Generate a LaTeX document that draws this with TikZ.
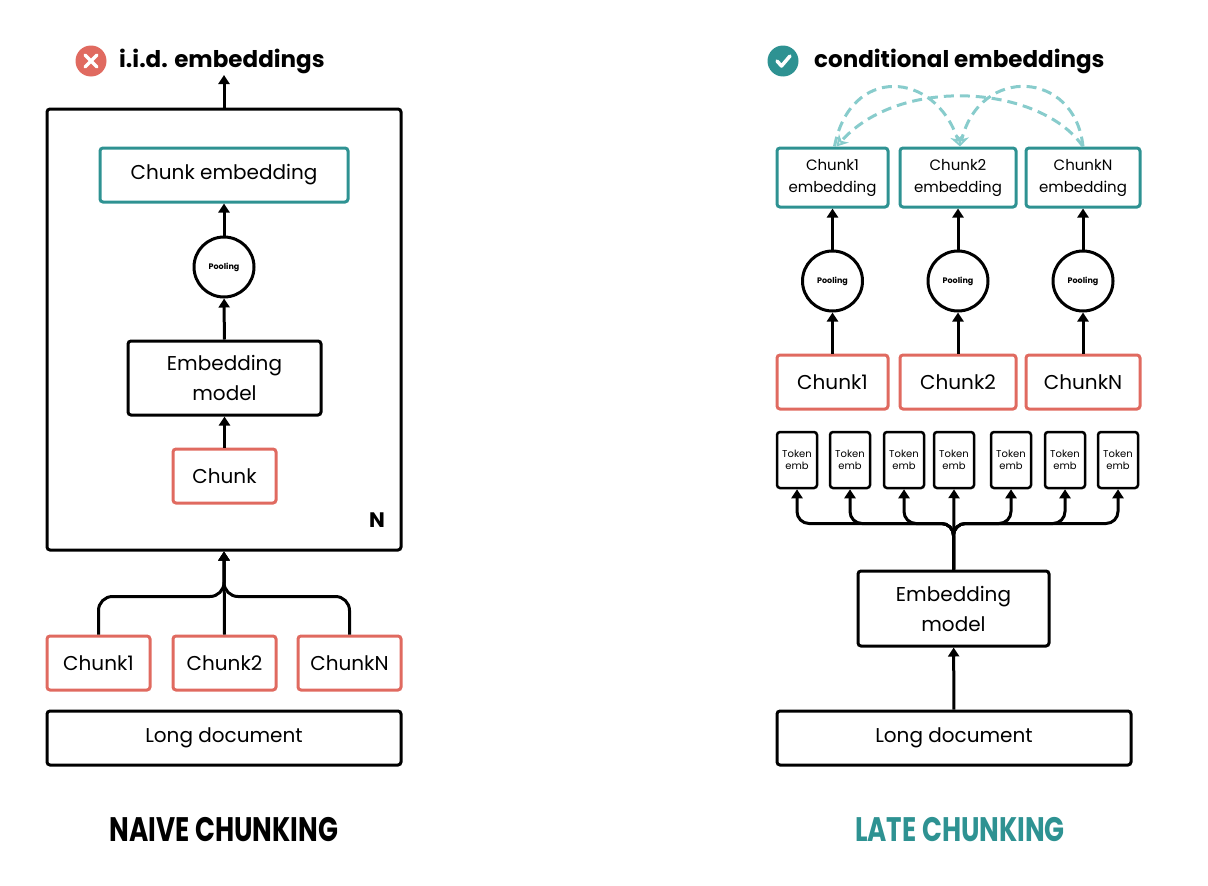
\documentclass[tikz,border=0pt]{standalone}
\usepackage{fontspec}
\setmainfont{Poppins}
\usetikzlibrary{arrows.meta,calc}
\definecolor{cred}{HTML}{E06A60}
\definecolor{cteal}{HTML}{2E9292}
\definecolor{clight}{HTML}{88CCCC}
\begin{document}
\begin{tikzpicture}[x=1pt,y=-1pt,
 box/.style={draw,line width=3pt,rounded corners=3pt,inner sep=0pt,align=center},
 bk/.style={box,draw=black},
 rd/.style={box,draw=cred},
 tl/.style={box,draw=cteal},
 pool/.style={circle,draw,line width=3pt,minimum size=60pt,inner sep=0pt,font=\fontsize{8}{9}\selectfont\bfseries},
 tok/.style={bk,line width=2.5pt,minimum width=40pt,minimum height=56pt,font=\fontsize{10}{12}\selectfont},
 arr/.style={line width=3pt,-{Triangle[length=9pt,width=11pt]}},
 ln/.style={line width=3pt},
 dsh/.style={clight,line width=3pt,dash pattern=on 10pt off 6pt,-{Stealth[length=11pt,width=13pt,open]}}]
\useasboundingbox (0,0) rectangle (1208,886);
% ---------- left
\node[bk,minimum width=354pt,minimum height=441pt] (outer) at (224,329.5) {};
\node[tl,minimum width=248pt,minimum height=54pt,font=\fontsize{20}{24}\selectfont] (ce) at (224,175) {Chunk embedding};
\node[pool] (pl) at (224,267) {Pooling};
\node[bk,minimum width=193pt,minimum height=74pt,font=\fontsize{20}{30}\selectfont] (em) at (224.5,378) {Embedding\\model};
\node[rd,minimum width=103pt,minimum height=54pt,font=\fontsize{20}{24}\selectfont] (ck) at (224.5,476) {Chunk};
\node[font=\fontsize{21}{24}\selectfont\bfseries] (N) at (377,520) {N};
\draw[arr] (ck) -- (em);
\draw[arr] (em) -- (pl);
\draw[arr] (pl) -- (ce);
\coordinate (out) at (224,75);
\draw[arr] (outer.north) -- (out);
\node[rd,minimum width=103pt,minimum height=54pt,font=\fontsize{20}{24}\selectfont] (c1) at (98.5,663) {Chunk1};
\node[rd,minimum width=103pt,minimum height=54pt,font=\fontsize{20}{24}\selectfont] (c2) at (224.5,663) {Chunk2};
\node[rd,minimum width=103pt,minimum height=54pt,font=\fontsize{20}{24}\selectfont] (cN) at (349.5,663) {ChunkN};
\node[bk,minimum width=354pt,minimum height=54pt,font=\fontsize{20}{24}\selectfont] (ld) at (224,738) {Long document};
\draw[arr,rounded corners=14pt] (c1.north) -- ++(0,-38) -| (outer.south);
\draw[arr,rounded corners=14pt] (cN.north) -- ++(0,-38) -| (outer.south);
\draw[arr] (c2.north) -- (outer.south);
\node[circle,fill=cred,minimum size=31pt,inner sep=0pt] (ix) at (91,61) {};
\draw[white,line width=3.5pt,line cap=round] ($(ix)+(-6,-6)$) -- ($(ix)+(6,6)$) ($(ix)+(6,-6)$) -- ($(ix)+(-6,6)$);
\node[anchor=west,inner sep=0pt,font=\fontsize{23}{26}\selectfont\bfseries] (t1) at (119,61) {i.i.d. embeddings};
\node[font=\fontsize{34}{40}\selectfont\bfseries] (naive) at (224,830) {\scalebox{0.77}[1]{NAIVE CHUNKING}};
% ---------- right
\foreach \n/\x/\w/\lab in {1/832.5/111/Chunk1,2/958/116/Chunk2,3/1083/114/ChunkN}{
 \node[tl,minimum width=\w pt,minimum height=59pt,font=\fontsize{15}{22}\selectfont] (e\n) at (\x,177.5) {\lab\\embedding};
 \node[pool] (p\n) at (\x,281) {Pooling};
 \node[rd,minimum width=\w pt,minimum height=54pt,font=\fontsize{20}{24}\selectfont] (r\n) at (\x,382) {\lab};
 \draw[arr] (r\n) -- (p\n);
 \draw[arr] (p\n) -- (e\n);
}
\foreach \n/\x in {1/797,2/850,3/904,4/954,5/1011,6/1065,7/1118}{
 \node[tok] (t\n) at (\x,460) {Token\\emb};
}
\node[bk,minimum width=191pt,minimum height=75pt,font=\fontsize{20}{30}\selectfont] (rem) at (953.5,608.5) {Embedding\\model};
\node[bk,minimum width=354pt,minimum height=54pt,font=\fontsize{20}{24}\selectfont] (rld) at (954,738) {Long document};
\draw[arr] (rld) -- (rem);
\foreach \n in {1,2,3,5,6,7}{
 \draw[arr,rounded corners=12pt] (rem.north) -- ++(0,-46) -| (t\n.south);
}
\draw[arr] (rem.north) -- (t4.south);
\draw[dsh] ([xshift=2pt]e1.north) .. controls (850,65) and (935,70) .. ([xshift=2pt]e2.north);
\draw[dsh] (e3.north) .. controls (1075,70) and (980,65) .. ([xshift=2pt]e2.north);
\draw[dsh] (e3.north) .. controls (1040,85) and (900,75) .. ([xshift=4pt]e1.north);
\node[circle,fill=cteal,minimum size=31pt,inner sep=0pt] (ic) at (783,61) {};
\draw[white,line width=3.5pt,line cap=round,line join=round] ($(ic)+(-6,0)$) -- ($(ic)+(-1.5,5)$) -- ($(ic)+(7,-5)$);
\node[anchor=west,inner sep=0pt,font=\fontsize{23}{26}\selectfont\bfseries] (t2) at (814,61) {conditional embeddings};
\node[cteal,font=\fontsize{34}{40}\selectfont\bfseries] (late) at (960,830) {\scalebox{0.77}[1]{LATE CHUNKING}};
\end{tikzpicture}
\end{document}
